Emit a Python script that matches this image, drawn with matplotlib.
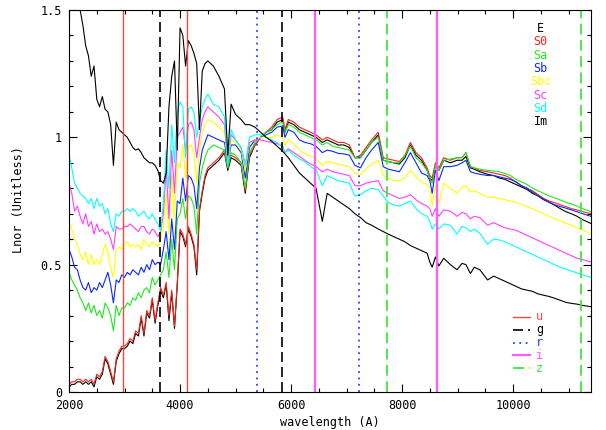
import matplotlib
matplotlib.use("Agg")
import matplotlib.pyplot as plt
from matplotlib.ticker import MultipleLocator, FixedLocator, FixedFormatter

# wavelength grid (Angstrom)
WAVE = [
    2000, 2050, 2100, 2150, 2200, 2250, 2300, 2350, 2400, 2450,
    2500, 2550, 2600, 2650, 2700, 2750, 2800, 2850, 2900, 2950,
    3000, 3050, 3100, 3150, 3200, 3250, 3300, 3350, 3400, 3450,
    3500, 3550, 3600, 3650, 3700, 3750, 3800, 3850, 3900, 3950,
    4000, 4050, 4100, 4150, 4200, 4250, 4300, 4350, 4400, 4450,
    4500, 4600, 4700, 4800, 4860, 4920, 5000, 5100, 5175, 5250,
    5350, 5450, 5550, 5650, 5750, 5850, 5890, 5950, 6050, 6150,
    6250, 6350, 6450, 6563, 6650, 6750, 6850, 6950, 7050, 7150,
    7250, 7350, 7450, 7570, 7660, 7750, 7850, 7950, 8050, 8150,
    8250, 8350, 8450, 8500, 8542, 8600, 8662, 8750, 8870, 8990,
    9080, 9150, 9230, 9300, 9400, 9540, 9650, 9750, 9850, 9950,
    10050, 10150, 10250, 10350, 10450, 10550, 10650, 10750, 10850, 10950,
    11050, 11150, 11250, 11400,
]

# normalised template luminosities
E_LNOR = [
    0.02, 0.03, 0.03, 0.04, 0.04, 0.03, 0.04, 0.03, 0.04, 0.02,
    0.06, 0.05, 0.07, 0.13, 0.11, 0.07, 0.03, 0.12, 0.15, 0.17,
    0.17, 0.18, 0.20, 0.19, 0.23, 0.22, 0.29, 0.22, 0.31, 0.29,
    0.36, 0.27, 0.34, 0.40, 0.37, 0.42, 0.28, 0.39, 0.25, 0.42,
    0.63, 0.61, 0.57, 0.64, 0.61, 0.57, 0.46, 0.71, 0.78, 0.84,
    0.87, 0.89, 0.91, 0.94, 0.87, 0.92, 0.91, 0.89, 0.78, 0.92,
    0.97, 1.00, 1.02, 1.03, 1.06, 1.07, 1.02, 1.06, 1.05, 1.03,
    1.02, 1.01, 1.00, 0.98, 0.99, 0.98, 0.97, 0.97, 0.96, 0.92,
    0.92, 0.95, 0.98, 1.01, 0.91, 0.905, 0.90, 0.895, 0.92, 0.97,
    0.93, 0.91, 0.87, 0.84, 0.83, 0.89, 0.87, 0.91, 0.90, 0.91,
    0.91, 0.925, 0.88, 0.875, 0.865, 0.855, 0.85, 0.84, 0.835, 0.825,
    0.815, 0.805, 0.795, 0.78, 0.77, 0.755, 0.745, 0.733, 0.72, 0.708,
    0.70, 0.69, 0.677, 0.662,
]
S0_LNOR = [
    0.03, 0.04, 0.04, 0.05, 0.05, 0.04, 0.05, 0.04, 0.05, 0.03,
    0.07, 0.06, 0.08, 0.14, 0.12, 0.08, 0.04, 0.13, 0.16, 0.18,
    0.18, 0.19, 0.21, 0.20, 0.24, 0.23, 0.30, 0.23, 0.32, 0.30,
    0.37, 0.28, 0.35, 0.41, 0.38, 0.43, 0.30, 0.40, 0.26, 0.43,
    0.64, 0.62, 0.58, 0.65, 0.62, 0.58, 0.48, 0.72, 0.79, 0.85,
    0.88, 0.90, 0.92, 0.95, 0.88, 0.93, 0.92, 0.90, 0.79, 0.93,
    0.97, 1.00, 1.02, 1.04, 1.07, 1.08, 1.03, 1.07, 1.06, 1.04,
    1.03, 1.02, 1.01, 0.99, 1.00, 0.99, 0.98, 0.98, 0.97, 0.92,
    0.93, 0.96, 0.99, 1.02, 0.92, 0.915, 0.91, 0.905, 0.93, 0.98,
    0.94, 0.92, 0.88, 0.85, 0.84, 0.90, 0.88, 0.92, 0.91, 0.92,
    0.92, 0.94, 0.885, 0.88, 0.87, 0.865, 0.86, 0.855, 0.85, 0.84,
    0.825, 0.81, 0.80, 0.79, 0.775, 0.76, 0.75, 0.743, 0.735, 0.728,
    0.72, 0.715, 0.708, 0.70,
]
SA_LNOR = [
    0.47, 0.44, 0.42, 0.40, 0.37, 0.35, 0.32, 0.35, 0.31, 0.34,
    0.30, 0.32, 0.29, 0.35, 0.33, 0.30, 0.24, 0.34, 0.30, 0.33,
    0.33, 0.35, 0.34, 0.37, 0.36, 0.39, 0.37, 0.40, 0.41, 0.39,
    0.45, 0.42, 0.44, 0.46, 0.48, 0.55, 0.45, 0.60, 0.48, 0.68,
    0.70, 0.76, 0.68, 0.77, 0.76, 0.73, 0.62, 0.82, 0.88, 0.92,
    0.95, 0.97, 0.96, 0.95, 0.88, 0.94, 0.93, 0.90, 0.80, 0.94,
    0.98, 1.00, 1.02, 1.03, 1.05, 1.06, 1.02, 1.05, 1.04, 1.02,
    1.01, 1.00, 0.99, 0.97, 0.98, 0.965, 0.96, 0.955, 0.95, 0.92,
    0.92, 0.95, 0.98, 1.00, 0.91, 0.905, 0.90, 0.90, 0.93, 0.965,
    0.92, 0.90, 0.87, 0.84, 0.82, 0.89, 0.87, 0.91, 0.915, 0.92,
    0.92, 0.94, 0.885, 0.88, 0.875, 0.87, 0.868, 0.865, 0.858, 0.85,
    0.835, 0.825, 0.815, 0.80, 0.79, 0.78, 0.77, 0.762, 0.754, 0.745,
    0.738, 0.73, 0.72, 0.708,
]
SB_LNOR = [
    0.56, 0.53, 0.49, 0.48, 0.44, 0.41, 0.40, 0.43, 0.39, 0.41,
    0.40, 0.43, 0.41, 0.44, 0.47, 0.42, 0.35, 0.44, 0.43, 0.46,
    0.45, 0.47, 0.46, 0.48, 0.47, 0.46, 0.49, 0.47, 0.50, 0.48,
    0.52, 0.50, 0.51, 0.50, 0.56, 0.63, 0.52, 0.68, 0.56, 0.75,
    0.74, 0.84, 0.75, 0.85, 0.84, 0.81, 0.72, 0.88, 0.95, 0.98,
    1.01, 1.00, 0.99, 0.98, 0.90, 0.97, 0.97, 0.94, 0.84, 0.96,
    0.99, 1.00, 1.01, 1.02, 1.04, 1.045, 1.00, 1.03, 1.02, 0.99,
    0.98, 0.975, 0.965, 0.94, 0.95, 0.945, 0.937, 0.935, 0.93, 0.89,
    0.88, 0.92, 0.95, 0.98, 0.885, 0.875, 0.87, 0.865, 0.90, 0.94,
    0.90, 0.86, 0.85, 0.83, 0.78, 0.87, 0.83, 0.885, 0.885, 0.89,
    0.90, 0.91, 0.865, 0.86, 0.855, 0.85, 0.85, 0.845, 0.84, 0.835,
    0.825, 0.81, 0.80, 0.785, 0.77, 0.757, 0.745, 0.735, 0.728, 0.722,
    0.715, 0.708, 0.70, 0.69,
]
SBC_LNOR = [
    0.67, 0.64, 0.60, 0.58, 0.54, 0.52, 0.55, 0.50, 0.54, 0.50,
    0.52, 0.50, 0.54, 0.58, 0.55, 0.49, 0.45, 0.56, 0.57, 0.56,
    0.58, 0.59, 0.57, 0.58, 0.57, 0.58, 0.56, 0.60, 0.58, 0.57,
    0.59, 0.58, 0.57, 0.60, 0.65, 0.78, 0.62, 0.85, 0.68, 0.90,
    0.88, 0.97, 0.84, 0.96, 0.97, 0.94, 0.82, 0.95, 1.02, 1.05,
    1.07, 1.06, 1.04, 1.02, 0.90, 0.99, 0.98, 0.95, 0.87, 0.98,
    0.99, 1.00, 1.00, 1.00, 1.01, 1.00, 0.97, 0.99, 0.975, 0.95,
    0.935, 0.925, 0.915, 0.89, 0.905, 0.90, 0.895, 0.89, 0.885, 0.86,
    0.855, 0.875, 0.895, 0.91, 0.85, 0.84, 0.83, 0.83, 0.84, 0.87,
    0.845, 0.825, 0.815, 0.80, 0.73, 0.81, 0.74, 0.82, 0.80, 0.78,
    0.805, 0.81, 0.785, 0.79, 0.78, 0.765, 0.765, 0.76, 0.755, 0.75,
    0.745, 0.737, 0.728, 0.72, 0.71, 0.70, 0.69, 0.68, 0.672, 0.662,
    0.655, 0.645, 0.638, 0.62,
]
SC_LNOR = [
    0.82, 0.78, 0.71, 0.73, 0.69, 0.66, 0.70, 0.65, 0.67, 0.62,
    0.66, 0.63, 0.64, 0.62, 0.63, 0.60, 0.56, 0.65, 0.64, 0.64,
    0.65, 0.65, 0.66, 0.65, 0.64, 0.63, 0.65, 0.65, 0.63, 0.62,
    0.64, 0.63, 0.61, 0.63, 0.70, 0.88, 0.68, 0.95, 0.78, 1.00,
    1.02, 1.04, 0.95, 1.05, 1.06, 1.03, 0.92, 1.00, 1.07, 1.10,
    1.12, 1.10, 1.08, 1.05, 0.90, 1.01, 0.99, 0.96, 0.89, 0.98,
    0.99, 0.99, 0.985, 0.98, 0.975, 0.965, 0.94, 0.955, 0.94, 0.925,
    0.91, 0.895, 0.885, 0.865, 0.875, 0.865, 0.86, 0.855, 0.85, 0.81,
    0.81, 0.82, 0.825, 0.83, 0.79, 0.78, 0.77, 0.76, 0.765, 0.775,
    0.755, 0.74, 0.73, 0.72, 0.69, 0.72, 0.69, 0.715, 0.71, 0.69,
    0.705, 0.70, 0.68, 0.69, 0.685, 0.655, 0.665, 0.655, 0.645, 0.64,
    0.635, 0.625, 0.615, 0.605, 0.595, 0.585, 0.575, 0.565, 0.555, 0.545,
    0.535, 0.525, 0.52, 0.51,
]
SD_LNOR = [
    0.93, 0.88, 0.82, 0.80, 0.78, 0.77, 0.76, 0.74, 0.76, 0.72,
    0.76, 0.73, 0.74, 0.70, 0.72, 0.66, 0.63, 0.70, 0.69, 0.71,
    0.71, 0.72, 0.71, 0.72, 0.71, 0.69, 0.70, 0.71, 0.69, 0.68,
    0.70, 0.68, 0.66, 0.63, 0.74, 0.95, 0.80, 1.05, 0.90, 1.10,
    1.14, 1.12, 0.92, 1.11, 1.12, 1.10, 1.00, 1.06, 1.12, 1.15,
    1.17, 1.13, 1.12, 1.08, 0.89, 1.03, 0.99, 0.96, 0.89, 1.00,
    1.01, 1.01, 1.00, 0.99, 0.98, 0.96, 0.94, 0.95, 0.93, 0.915,
    0.905, 0.885, 0.872, 0.81, 0.85, 0.84, 0.83, 0.825, 0.82, 0.77,
    0.775, 0.79, 0.80, 0.795, 0.77, 0.745, 0.734, 0.73, 0.74, 0.75,
    0.72, 0.70, 0.69, 0.67, 0.64, 0.66, 0.64, 0.66, 0.655, 0.62,
    0.65, 0.645, 0.63, 0.64, 0.623, 0.58, 0.60, 0.597, 0.59, 0.58,
    0.57, 0.56, 0.55, 0.54, 0.53, 0.52, 0.51, 0.50, 0.49, 0.483,
    0.475, 0.468, 0.46, 0.45,
]
IM_LNOR = [
    1.75, 1.68, 1.62, 1.56, 1.50, 1.44, 1.36, 1.32, 1.24, 1.28,
    1.15, 1.12, 1.16, 1.11, 1.10, 1.05, 0.89, 1.06, 1.03, 1.02,
    1.01, 1.00, 0.98, 0.96, 0.95, 0.955, 0.94, 0.92, 0.91, 0.90,
    0.90, 0.89, 0.87, 0.83, 0.82, 0.86, 1.12, 1.24, 1.30, 0.95,
    1.43, 1.40, 1.28, 1.38, 1.36, 1.33, 1.29, 1.03, 1.26, 1.29,
    1.30, 1.28, 1.24, 1.19, 0.93, 1.13, 1.09, 1.07, 1.05, 1.05,
    1.04, 1.02, 1.00, 0.985, 0.965, 0.945, 0.935, 0.92, 0.89, 0.86,
    0.84, 0.82, 0.80, 0.67, 0.78, 0.765, 0.75, 0.735, 0.72, 0.70,
    0.685, 0.665, 0.655, 0.64, 0.63, 0.62, 0.61, 0.60, 0.59, 0.575,
    0.565, 0.555, 0.545, 0.51, 0.49, 0.53, 0.495, 0.525, 0.50, 0.48,
    0.505, 0.50, 0.465, 0.49, 0.48, 0.44, 0.455, 0.445, 0.435, 0.425,
    0.415, 0.405, 0.40, 0.395, 0.385, 0.38, 0.375, 0.368, 0.36, 0.352,
    0.348, 0.345, 0.34, 0.335,
]

TYPE_NAMES = ["E", "S0", "Sa", "Sb", "Sbc", "Sc", "Sd", "Im"]
TYPE_COLORS = ["black", "#f0281a", "#1fe81f", "#0a28ff", "#ffff00",
               "#ff40ff", "#00ffff", "black"]
TYPE_LNOR = [E_LNOR, S0_LNOR, SA_LNOR, SB_LNOR, SBC_LNOR, SC_LNOR,
             SD_LNOR, IM_LNOR]

# SDSS filter edges (Angstrom)
FILTER_NAMES = ["u", "g", "r", "i", "z"]
FILTER_EDGES = [[2980, 4130], [3630, 5830], [5380, 7230],
                [6430, 8630], [7730, 11230]]
FILTER_COLORS = ["#f04a3a", "black", "#2244ff", "#ff5cff", "#3ee83e"]
FILTER_STYLES = ["-", (0, (6, 3)), (0, (1, 2.5)), "-", (0, (6, 3))]
FILTER_WIDTHS = [1.0, 1.2, 1.3, 1.6, 1.3]

plt.rcParams["font.family"] = "DejaVu Sans Mono"
plt.rcParams["font.size"] = 8.5

fig = plt.figure(figsize=(6.06, 4.30), dpi=100)
ax = fig.add_axes([0.1139, 0.0884, 0.8611, 0.8883])

for flux, col in zip(TYPE_LNOR, TYPE_COLORS):
    ax.plot(WAVE, flux, color=col, lw=0.8)

for edges, col, ls, lw in zip(FILTER_EDGES, FILTER_COLORS,
                              FILTER_STYLES, FILTER_WIDTHS):
    for w in edges:
        ax.axvline(w, color=col, ls=ls, lw=lw)

ax.set_xlim(2000, 11400)
ax.set_ylim(0, 1.5)

ax.xaxis.set_major_locator(MultipleLocator(2000))
ax.xaxis.set_minor_locator(MultipleLocator(500))
ax.yaxis.set_major_locator(FixedLocator([0, 0.5, 1.0, 1.5]))
ax.yaxis.set_major_formatter(FixedFormatter(["0", "0.5", "1", "1.5"]))
ax.yaxis.set_minor_locator(MultipleLocator(0.1))
ax.tick_params(which="both", direction="in", top=True, right=True,
               width=0.8)
ax.tick_params(which="major", length=6)
ax.tick_params(axis="x", which="major", pad=5)
ax.tick_params(axis="y", which="major", pad=5)
ax.tick_params(which="minor", length=3)
for sp in ax.spines.values():
    sp.set_linewidth(0.8)

ax.set_xlabel("wavelength (A)", va="center")
ax.set_ylabel("Lnor (Unitless)", va="center")
ax.xaxis.set_label_coords(0.499, -0.079)
ax.yaxis.set_label_coords(-0.0977, 0.505)

# galaxy type key, top right
for k, (name, col) in enumerate(zip(TYPE_NAMES, TYPE_COLORS)):
    ax.text(0.904, 0.952 - k * 0.0349, name, color=col,
            transform=ax.transAxes, ha="center", va="center")

# filter key, bottom right
for k, (name, col, ls, lw) in enumerate(zip(FILTER_NAMES, FILTER_COLORS,
                                           FILTER_STYLES, FILTER_WIDTHS)):
    y = 0.197 - k * 0.0338
    ax.plot([0.851, 0.883], [y, y], color=col, ls=ls, lw=lw,
            transform=ax.transAxes)
    ax.text(0.895, y, name, color=col, transform=ax.transAxes,
            ha="left", va="center")

fig.savefig("out.png", dpi=100)
